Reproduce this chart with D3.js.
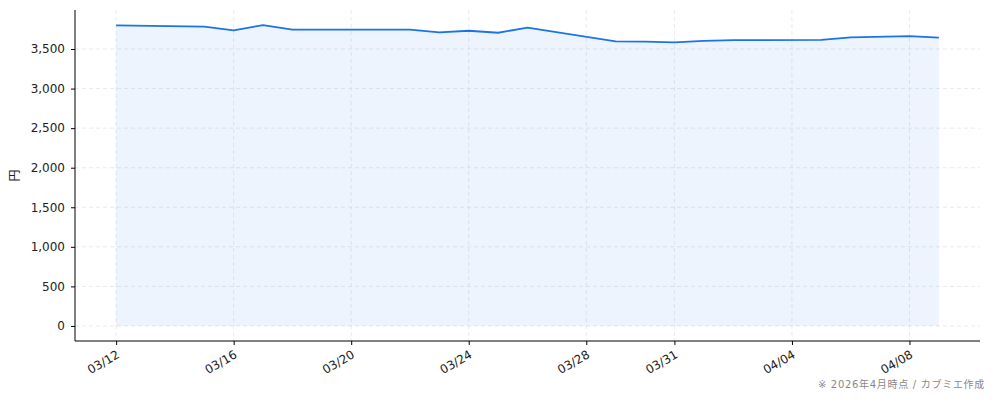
<!DOCTYPE html>
<html><head><meta charset="utf-8">
<script src="https://cdn.jsdelivr.net/npm/d3@7"></script>
<style>
body{margin:0;background:#fff;}
text{font-family:"DejaVu Sans","Noto Sans CJK JP",sans-serif;}
</style></head>
<body><svg id="c" width="994" height="401"></svg>
<script>
const dates = ["2026-03-12","2026-03-15","2026-03-16","2026-03-17","2026-03-18","2026-03-22","2026-03-23","2026-03-24","2026-03-25","2026-03-26","2026-03-29","2026-03-30","2026-03-31","2026-04-01","2026-04-02","2026-04-05","2026-04-06","2026-04-08","2026-04-09"];
const prices = [3800,3782,3736,3803,3744,3744,3711,3731,3706,3770,3597,3593,3585,3603,3612,3616,3648,3662,3643];
const xTickDates = ["2026-03-12","2026-03-16","2026-03-20","2026-03-24","2026-03-28","2026-03-31","2026-04-04","2026-04-08"];
const yTicks = [0,500,1000,1500,2000,2500,3000,3500];
const yLabel = "円";
const footnote = "※ 2026年4月時点 / カブミエ作成";

const parse = d3.utcParse("%Y-%m-%d");
const data = dates.map((d,i)=>({date:parse(d), v:prices[i]}));
const svg = d3.select("#c");
const L=75,R=980,T=10,B=341;
const dMin=data[0].date, dMax=data[data.length-1].date;
const span=(dMax-dMin)*0.05;
const x=d3.scaleUtc().domain([new Date(+dMin-span), new Date(+dMax+span)]).range([L,R]);
const vmax=d3.max(prices), ym=vmax*0.05;
const y=d3.scaleLinear().domain([-ym, vmax+ym]).range([B,T]);

const g=svg.append("g");
// grid
g.selectAll(".hg").data(yTicks).join("line").attr("x1",L).attr("x2",R)
 .attr("y1",d=>y(d)).attr("y2",d=>y(d)).attr("stroke","#e3e6ec").attr("stroke-dasharray","4,3").attr("stroke-width",0.8);
g.selectAll(".vg").data(xTickDates.map(parse)).join("line").attr("y1",T).attr("y2",B)
 .attr("x1",d=>x(d)).attr("x2",d=>x(d)).attr("stroke","#e3e6ec").attr("stroke-dasharray","4,3").attr("stroke-width",0.8);

// area
g.append("path").datum(data).attr("fill","#1a73e8").attr("fill-opacity",0.08)
 .attr("d",d3.area().x(d=>x(d.date)).y0(y(0)).y1(d=>y(d.v)));
g.append("path").datum(data).attr("fill","none").attr("stroke","#1a73e8").attr("stroke-width",1.8)
 .attr("d",d3.line().x(d=>x(d.date)).y(d=>y(d.v)));

// axes
const ya=svg.append("g").attr("transform",`translate(${L},0)`)
 .call(d3.axisLeft(y).tickValues(yTicks).tickFormat(d3.format(",")).tickSize(4).tickPadding(6).tickSizeOuter(0));
ya.select(".domain").remove();
svg.append("line").attr("x1",L).attr("x2",L).attr("y1",T).attr("y2",B).attr("stroke","#000").attr("stroke-width",1);
ya.selectAll("text").attr("font-size",12).attr("fill","#222");
ya.selectAll("line").attr("stroke","#000");

const xa=svg.append("g").attr("transform",`translate(0,${B})`)
 .call(d3.axisBottom(x).tickValues(xTickDates.map(parse)).tickFormat(d3.utcFormat("%m/%d")).tickSize(4).tickSizeOuter(0));
xa.select(".domain").remove();
svg.append("line").attr("x1",L).attr("x2",R).attr("y1",B).attr("y2",B).attr("stroke","#000").attr("stroke-width",1);
xa.selectAll("line").attr("stroke","#000");
xa.selectAll("text").attr("font-size",12).attr("fill","#222")
 .attr("text-anchor","end").attr("dy",null).attr("y",0)
 .attr("transform","translate(2,13) rotate(-30)").attr("dominant-baseline","middle");

svg.append("text").attr("transform",`translate(19,${(T+B)/2}) rotate(-90)`).attr("text-anchor","middle")
 .attr("font-size",12).attr("fill","#222").text(yLabel);
svg.append("text").attr("x",985).attr("y",388).attr("text-anchor","end").attr("font-size",10)
 .attr("letter-spacing",0.7).attr("fill","#888").text(footnote);
</script></body></html>
